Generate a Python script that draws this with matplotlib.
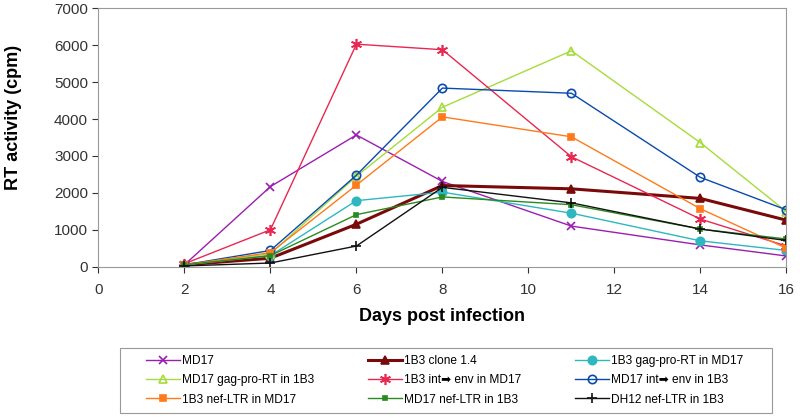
import matplotlib
matplotlib.use('Agg')
import matplotlib.pyplot as plt
from matplotlib.patches import Rectangle

plt.rcParams['font.family'] = ['Liberation Sans', 'DejaVu Sans']

days = [2, 4, 6, 8, 11, 14, 16]

md17 = [50, 2170, 3570, 2310, 1100, 590, 290]
b3_clone = [50, 230, 1150, 2200, 2110, 1850, 1260]
b3_gag_in_md17 = [50, 300, 1790, 2020, 1450, 700, 440]
md17_gag_in_b3 = [50, 350, 2450, 4320, 5850, 3360, 1490]
b3_env_in_md17 = [80, 1000, 6030, 5880, 2980, 1290, 560]
md17_env_in_b3 = [50, 440, 2480, 4840, 4700, 2420, 1540]
b3_nef_in_md17 = [50, 380, 2210, 4060, 3520, 1570, 500]
md17_nef_in_b3 = [50, 300, 1410, 1890, 1680, 1020, 750]
dh12_nef_in_b3 = [20, 100, 560, 2150, 1730, 1020, 710]

AST = (6, 2, 0)  # asterisk marker like Excel's

# label, values, color, marker, size, filled, linewidth
series = [
    ("MD17", md17, "#9A1FB0", "x", 6, True, 1.0),
    ("1B3 clone 1.4", b3_clone, "#7A0A0A", "^", 6, True, 2.2),
    ("1B3 gag-pro-RT in MD17", b3_gag_in_md17, "#2DB8C0", "o", 6, True, 1.0),
    ("MD17 gag-pro-RT in 1B3", md17_gag_in_b3, "#A6DC3A", "^", 6, False, 1.0),
    ("1B3 int\u27a1 env in MD17", b3_env_in_md17, "#E82850", AST, 8, True, 1.0),
    ("MD17 int\u27a1 env in 1B3", md17_env_in_b3, "#0A4AAE", "o", 6, False, 1.0),
    ("1B3 nef-LTR in MD17", b3_nef_in_md17, "#FF7A1A", "s", 5, True, 1.0),
    ("MD17 nef-LTR in 1B3", md17_nef_in_b3, "#2A8A1E", "s", 3, True, 1.0),
    ("DH12 nef-LTR in 1B3", dh12_nef_in_b3, "#111111", "+", 7, True, 1.0),
]

fig = plt.figure(figsize=(8, 4.19), dpi=100)
ax = fig.add_axes([0.123, 0.3635, 0.860, 0.6165])

handles = []
for label, vals, color, marker, ms, filled, lw in series:
    h, = ax.plot(days, vals, color=color, marker=marker, markersize=ms,
                 markerfacecolor=color if filled else 'none',
                 markeredgecolor=color, markeredgewidth=1.2,
                 linewidth=lw, label=label)
    handles.append(h)

ax.set_xlim(0, 16)
ax.set_ylim(0, 7000)
ax.set_xticks(range(0, 17, 2))
ax.set_yticks(range(0, 7001, 1000))
ax.tick_params(labelsize=11, colors='#333333', length=4, width=0.8)
ax.tick_params(axis='x', pad=8)
for side in ['left', 'bottom', 'top', 'right']:
    ax.spines[side].set_color('#999999')
    ax.spines[side].set_linewidth(0.8)

ax.set_xlabel("Days post infection", fontsize=13, fontweight='bold', labelpad=8)
ax.set_ylabel("RT activity (cpm)", fontsize=13, fontweight='bold')
ax.yaxis.set_label_coords(-0.111, 0.577)

# legend box, drawn separately to get Excel-like padding
W, H = 800, 419
fig.patches.append(Rectangle((120 / W, 1 - 413 / H), (772 - 120) / W, (413 - 348) / H,
                             transform=fig.transFigure, facecolor='white',
                             edgecolor='#999999', linewidth=0.8, zorder=0))

# legend filled row by row, like the original
order = [0, 3, 6, 1, 4, 7, 2, 5, 8]
leg = fig.legend([handles[i] for i in order], [series[i][0] for i in order],
                 ncol=3, loc='center', bbox_to_anchor=(0.556, 0.092),
                 fontsize=8.6, frameon=False,
                 handlelength=2.85, columnspacing=4.5, labelspacing=0.6,
                 borderpad=0.2, handletextpad=0.15)

fig.savefig("out.png", dpi=100)
